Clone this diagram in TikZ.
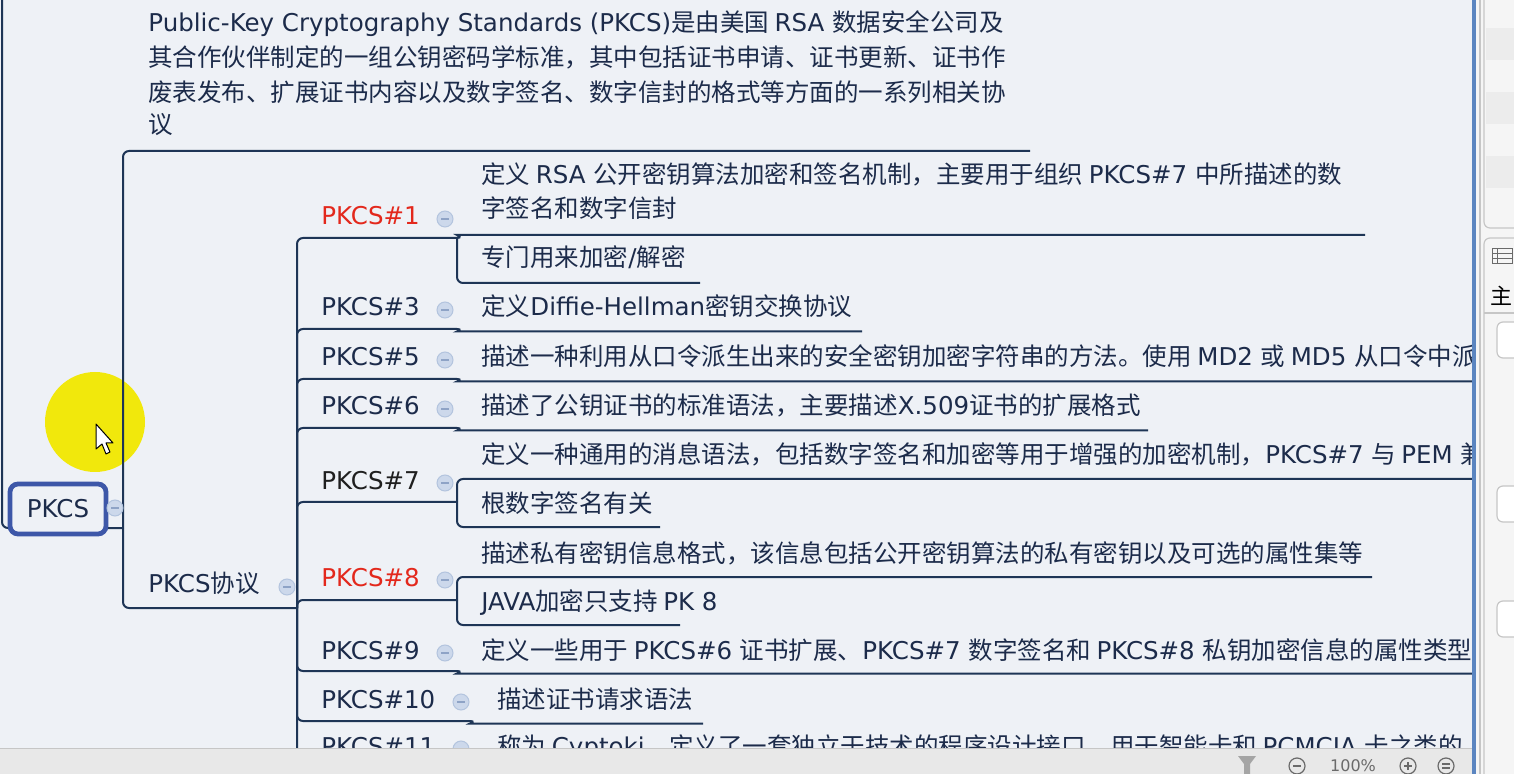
\documentclass[tikz,border=0pt]{standalone}
\usepackage{fontspec}
\setmainfont{DejaVu Sans}
\newfontfamily\latfont{DejaVu Sans}
\newfontfamily\cjkfont{Noto Sans CJK SC}
\XeTeXinterchartokenstate=1
\newXeTeXintercharclass\CJKcls
\newcount\myclscnt
\myclscnt=0
\loop\ifnum\myclscnt<"3000 \XeTeXcharclass\myclscnt=0 \advance\myclscnt by 1 \repeat
\loop\ifnum\myclscnt<"A000 \XeTeXcharclass\myclscnt=\CJKcls \advance\myclscnt by 1 \repeat
\myclscnt="FF00
\loop\ifnum\myclscnt<"FFF0 \XeTeXcharclass\myclscnt=\CJKcls \advance\myclscnt by 1 \repeat
\XeTeXinterchartoks 0 \CJKcls = {\cjkfont}
\XeTeXinterchartoks 4095 \CJKcls = {\cjkfont}
\XeTeXinterchartoks \CJKcls 0 = {\latfont}
\XeTeXinterchartoks 4095 0 = {\latfont}
\definecolor{bgc}{HTML}{EEF1F6}
\definecolor{linec}{HTML}{1E3556}
\definecolor{textc}{HTML}{1C2B4A}
\definecolor{redc}{HTML}{E3281C}
\definecolor{rootc}{HTML}{3D57A8}
\definecolor{foldf}{HTML}{CCD8EB}
\definecolor{foldb}{HTML}{B3C4DE}
\definecolor{foldm}{HTML}{8EA3C6}
\definecolor{hlc}{HTML}{F2E800}
\definecolor{bordc}{HTML}{5B85C0}
\definecolor{barc}{HTML}{E8E8E8}
\definecolor{sidec}{HTML}{F5F5F5}
\definecolor{stripc}{HTML}{ECECEC}
\definecolor{panelb}{HTML}{C6C6C6}
\definecolor{icong}{HTML}{6A6A6A}
\begin{document}
\begin{tikzpicture}[x=0.5pt,y=-0.5pt,
  conn/.style={draw=linec,line width=1pt,rounded corners=3pt},
  txt/.style={anchor=base west,inner sep=0pt,text=textc,font=\fontsize{12.25pt}{14pt}\selectfont},
  redtxt/.style={txt,text=redc},
  fold/.style={circle,draw=foldb,fill=foldf,minimum size=8pt,inner sep=0pt,line width=0.5pt,
    path picture={\draw[foldm,line width=0.7pt]([xshift=-2pt]path picture bounding box.center)--([xshift=2pt]path picture bounding box.center);}},
  rootbox/.style={draw=rootc,fill=bgc,line width=2.4pt,rounded corners=4pt,minimum width=48pt,minimum height=25pt,inner sep=0pt,text=textc,font=\fontsize{12.25pt}{14pt}\selectfont},
  barbtn/.style={circle,draw=icong,minimum size=8pt,inner sep=0pt,line width=0.6pt},
]
\useasboundingbox (0,0) rectangle (1514,774);
\fill[bgc] (0,0) rectangle (1514,774);

\begin{scope}
\clip (0,0) rectangle (1472,748);
% highlight
\fill[hlc,opacity=0.95] (95,422) circle (25pt);

% coordinates
\coordinate (top) at (2,-6);
\coordinate (rootS) at (123,528);
\coordinate (descE) at (1030,151);
\coordinate (protoE) at (297,608);
\coordinate (k1e) at (457,238);
\coordinate (k3e) at (457,329);
\coordinate (k5e) at (457,379);
\coordinate (k6e) at (457,428);
\coordinate (k7e) at (457,502);
\coordinate (k8e) at (457,600);
\coordinate (k9e) at (457,671);
\coordinate (k10e) at (470,721);
\coordinate (k11e) at (470,769);

\coordinate (c1as) at (463,235);   \coordinate (c1ae) at (1365,235);
\coordinate (c1be) at (700,283);
\coordinate (c3s) at (463,331.5);  \coordinate (c3e) at (862,331.5);
\coordinate (c5s) at (463,381.5);  \coordinate (c5e) at (1500,381.5);
\coordinate (c6s) at (463,430.5);  \coordinate (c6e) at (1148,430.5);
\coordinate (c7ae) at (1500,479);
\coordinate (c7be) at (660,527);
\coordinate (c8ae) at (1372,577);
\coordinate (c8be) at (680,625);
\coordinate (c9s) at (463,673.5);  \coordinate (c9e) at (1500,673.5);
\coordinate (c10s) at (476,723.5); \coordinate (c10e) at (703,723.5);
\coordinate (c11s) at (476,771.5); \coordinate (c11e) at (1500,771.5);

% connectors
\draw[conn] (top) |- (rootS);
\draw[conn] (rootS) |- (descE);
\draw[conn] (rootS) |- (protoE);
\foreach \k in {k1e,k3e,k5e,k6e,k7e,k8e,k9e,k10e,k11e}
  \draw[conn] (protoE) |- (\k);
\draw[conn] (k1e) .. controls +(5,0) and +(-4,0) .. (c1as) -- (c1ae);
\draw[conn] (k1e) |- (c1be);
\draw[conn] (k3e) .. controls +(5,0) and +(-4,0) .. (c3s) -- (c3e);
\draw[conn] (k5e) .. controls +(5,0) and +(-4,0) .. (c5s) -- (c5e);
\draw[conn] (k6e) .. controls +(5,0) and +(-4,0) .. (c6s) -- (c6e);
\draw[conn] (k7e) |- (c7ae);
\draw[conn] (k7e) |- (c7be);
\draw[conn] (k8e) |- (c8ae);
\draw[conn] (k8e) |- (c8be);
\draw[conn] (k9e) .. controls +(5,0) and +(-4,0) .. (c9s) -- (c9e);
\draw[conn] (k10e) .. controls +(5,0) and +(-4,0) .. (c10s) -- (c10e);
\draw[conn] (k11e) .. controls +(5,0) and +(-4,0) .. (c11s) -- (c11e);

% root
\node[rootbox] (pkcs) at (58,509) {PKCS};
\node[fold] (fpkcs) at (115,508) {};

% top description
\node[txt] (desc1) at (148,31.5) {Public-Key Cryptography Standards (PKCS)是由美国 RSA 数据安全公司及};
\node[txt] (desc2) at (148,67) {其合作伙伴制定的一组公钥密码学标准，其中包括证书申请、证书更新、证书作};
\node[txt] (desc3) at (148,102) {废表发布、扩展证书内容以及数字签名、数字信封的格式等方面的一系列相关协};
\node[txt] (desc4) at (148,134) {议};

% PKCS protocol
\node[txt] (proto) at (148,592) {PKCS协议};
\node[fold] (fproto) at (287,587) {};

% labels
\node[redtxt] (pk1) at (321,225) {PKCS\#1};
\node[txt] (pk3) at (321,316) {PKCS\#3};
\node[txt] (pk5) at (321,366) {PKCS\#5};
\node[txt] (pk6) at (321,415) {PKCS\#6};
\node[txt,text=black!88] (pk7) at (321,489) {PKCS\#7};
\node[redtxt] (pk8) at (321,586) {PKCS\#8};
\node[txt] (pk9) at (321,659) {PKCS\#9};
\node[txt] (pk10) at (321,708) {PKCS\#10};
\node[txt] (pk11) at (321,755) {PKCS\#11};
\foreach \n/\p in {f1/{(445,219)},f3/{(445,310)},f5/{(445,360)},f6/{(445,409)},f7/{(445,483)},f8/{(445,580)},f9/{(445,653)},f10/{(461,702)},f11/{(461,749)}}
  \node[fold] (\n) at \p {};

% children
\node[txt] (c1a1) at (481,184) {定义 RSA 公开密钥算法加密和签名机制，主要用于组织 PKCS\#7 中所描述的数};
\node[txt] (c1a2) at (481,218) {字签名和数字信封};
\node[txt] (c1b) at (481,267) {专门用来加密/解密};
\node[txt] (c3) at (481,316) {定义Diffie-Hellman密钥交换协议};
\node[txt] (c5) at (481,366) {描述一种利用从口令派生出来的安全密钥加密字符串的方法。使用 MD2 或 MD5 从口令中派};
\node[txt] (c6) at (481,415) {描述了公钥证书的标准语法，主要描述X.509证书的扩展格式};
\node[txt] (c7a) at (481,464) {定义一种通用的消息语法，包括数字签名和加密等用于增强的加密机制，PKCS\#7 与 PEM 兼};
\node[txt] (c7b) at (481,512) {根数字签名有关};
\node[txt] (c8a) at (481,562) {描述私有密钥信息格式，该信息包括公开密钥算法的私有密钥以及可选的属性集等};
\node[txt] (c8b) at (481,610) {JAVA加密只支持 PK 8};
\node[txt] (c9) at (481,659) {定义一些用于 PKCS\#6 证书扩展、PKCS\#7 数字签名和 PKCS\#8 私钥加密信息的属性类型};
\node[txt] (c10) at (497,708) {描述证书请求语法};
\node[txt] (c11) at (497,755) {称为 Cyptoki，定义了一套独立于技术的程序设计接口，用于智能卡和 PCMCIA 卡之类的};

% cursor
\filldraw[fill=white,draw=black,line width=0.5pt,line join=round]
  (96,424) -- (96,449) -- (102,444) -- (106,454) -- (110,452) -- (106,443) -- (113,443) -- cycle;
\end{scope}

% status bar
\fill[barc] (0,748) rectangle (1472,774);
\draw[panelb,line width=0.6pt] (0,748.5) -- (1472,748.5);
\fill[icong!60] (1238,756) -- (1256,756) -- (1250,764) -- (1250,776) -- (1244,776) -- (1244,764) -- cycle;
\node[barbtn] (zout) at (1297,766) {};
\draw[icong,line width=0.7pt] ([xshift=-2pt]zout.center) -- ([xshift=2pt]zout.center);
\node[anchor=base,inner sep=0pt,text=icong,font=\fontsize{8pt}{9pt}\selectfont] (zoomlbl) at (1353,771) {100\%};
\node[barbtn] (zin) at (1408,766) {};
\draw[icong,line width=0.7pt] ([xshift=-2pt]zin.center) -- ([xshift=2pt]zin.center) ([yshift=-2pt]zin.center) -- ([yshift=2pt]zin.center);
\node[barbtn] (zfit) at (1446,766) {};
\draw[icong,line width=0.6pt] ([xshift=-2pt,yshift=1pt]zfit.center) -- ([xshift=2pt,yshift=1pt]zfit.center) ([xshift=-2pt,yshift=-1pt]zfit.center) -- ([xshift=2pt,yshift=-1pt]zfit.center);

% right side panel
\fill[sidec] (1476,0) rectangle (1514,774);
\foreach \yy in {28,92,156} \fill[stripc] (1486,\yy) rectangle (1514,\yy+32);
\draw[panelb,line width=0.6pt,rounded corners=3pt] (1484,-6) -- (1484,228) -- (1520,228);
\draw[panelb,line width=0.6pt,rounded corners=3pt] (1484,780) -- (1484,238) -- (1520,238);
\draw[icong,line width=0.5pt] (1492,249) rectangle (1512,264) (1492,254) -- (1512,254) (1492,259) -- (1512,259) (1497,249) -- (1497,264);
\node[anchor=base west,inner sep=0pt,text=black,font=\fontsize{11pt}{12pt}\selectfont] (sidehead) at (1490,305) {主};
\draw[panelb,line width=0.6pt] (1484,313) -- (1514,313);
\foreach \yy in {322,486,601}
  \draw[panelb,fill=white,line width=0.6pt,rounded corners=3pt] (1497,\yy) rectangle (1522,\yy+36);
\draw[bordc,line width=2pt] (1473.5,0) -- (1473.5,774);
\draw[panelb,line width=0.8pt] (1480,0) -- (1480,774);
\end{tikzpicture}
\end{document}
